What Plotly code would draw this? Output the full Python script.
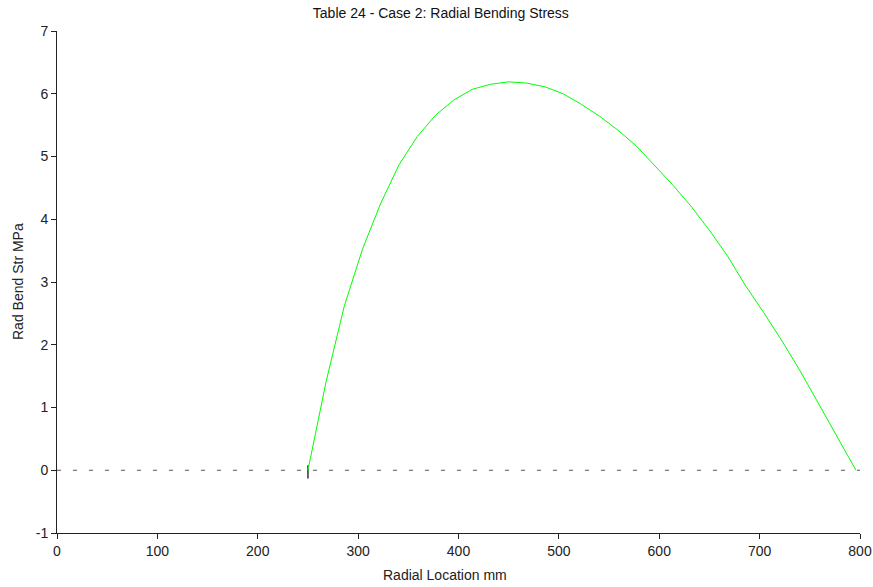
import plotly.graph_objects as go

radius_mm = [250, 268.2, 286.3, 304.5, 322.7, 340.8, 359, 377.2, 395.3, 413.5,
             431.7, 449.8, 468, 486.2, 504.3, 522.5, 540.7, 558.8, 577, 595.2,
             613.3, 631.5, 649.7, 667.8, 686, 704.2, 722.3, 740.5, 758.7, 776.8, 796]
stress_mpa = [0, 1.42, 2.62, 3.53, 4.26, 4.87, 5.32, 5.66, 5.90, 6.07,
              6.15, 6.19, 6.17, 6.11, 6.00, 5.83, 5.64, 5.42, 5.17, 4.86,
              4.55, 4.21, 3.83, 3.42, 2.94, 2.51, 2.06, 1.58, 1.06, 0.53, 0]

x_ticks = [0, 100, 200, 300, 400, 500, 600, 700, 800]
y_ticks = [-1, 0, 1, 2, 3, 4, 5, 6, 7]
y_tick_labels = ["-1", "0", "1", "2", "3", "4", "5", "6", "7"]

zero_x = [0, 800]
zero_y = [0, 0]
mark_x = [250, 250]
mark_y = [0.08, -0.13]

font = "Liberation Sans, Arial, sans-serif"

W, H = 873, 587

fig = go.Figure()
fig.add_trace(go.Scatter(x=zero_x, y=zero_y, mode="lines",
                         line=dict(color="#555555", width=1, dash="4px,12px"),
                         hoverinfo="skip", showlegend=False))
fig.add_trace(go.Scatter(x=mark_x, y=mark_y, mode="lines",
                         line=dict(color="#333333", width=1.5),
                         hoverinfo="skip", showlegend=False))
fig.add_trace(go.Scatter(x=radius_mm, y=stress_mpa, mode="lines",
                         line=dict(color="#00ff00", width=1),
                         showlegend=False))

fig.update_layout(
    width=W, height=H,
    margin=dict(l=57, r=13, t=31, b=54),
    paper_bgcolor="white", plot_bgcolor="white",
    font=dict(family=font, size=14, color="#222222"),
    title=dict(text="Table 24 - Case 2: Radial Bending Stress", x=0.505, xanchor="center",
               y=1 - 13 / H, yanchor="middle", font=dict(size=14, family=font, color="#111111")),
    xaxis=dict(range=[0, 800], tickvals=x_ticks, automargin=False,
               showline=True, linecolor="#222222", linewidth=1, mirror=False,
               ticks="outside", ticklen=5, tickcolor="#222222", showgrid=False,
               zeroline=False),
    yaxis=dict(range=[-1, 7], tickvals=y_ticks, ticktext=y_tick_labels, automargin=False,
               showline=True, linecolor="#222222", linewidth=1,
               ticks="outside", ticklen=5, tickcolor="#222222", showgrid=False,
               zeroline=False),
    annotations=[
        dict(text="Radial Location mm", xref="paper", yref="paper", x=0.483, y=0,
             xanchor="center", yanchor="middle", yshift=-42, showarrow=False,
             font=dict(size=14, family=font, color="#222222")),
        dict(text="Rad Bend Str MPa", xref="paper", yref="paper", x=0, y=0.5,
             xanchor="center", yanchor="middle", xshift=-39, textangle=-90, showarrow=False,
             font=dict(size=14, family=font, color="#222222")),
    ],
)

fig.write_html(
    "out.html",
    config={"displayModeBar": False},
    post_script="document.body.style.margin='0';document.documentElement.style.overflow='hidden';",
)
